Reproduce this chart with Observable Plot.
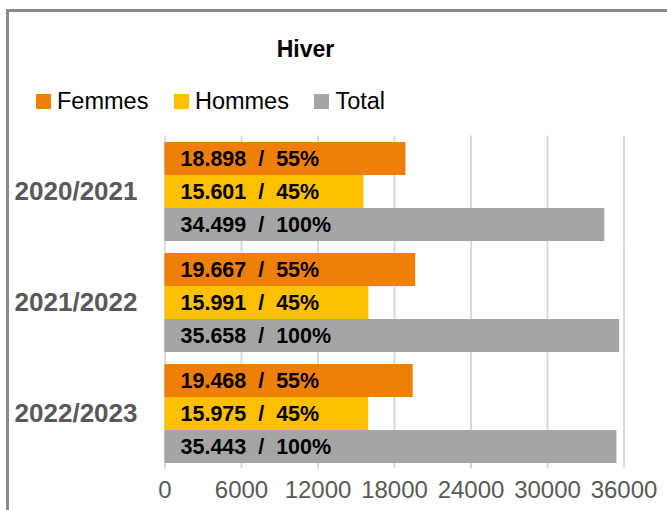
<!DOCTYPE html>
<html>
<head>
<meta charset="utf-8">
<script src="https://cdn.jsdelivr.net/npm/d3@7"></script>
<script src="https://cdn.jsdelivr.net/npm/@observablehq/plot@0.6"></script>
<style>
  html, body { margin: 0; padding: 0; background: #fff; }
  #wrap { position: relative; width: 667px; height: 510px; overflow: hidden; font-family: "Liberation Sans", Arial, sans-serif; }
  #header { position: relative; height: 120px; }
  #title { position: absolute; left: 0; width: 611px; top: 37.5px; text-align: center; font-weight: bold; font-size: 23px; line-height: 23px; color: #000; }
  #legend { position: absolute; left: 36px; top: 90px; display: flex; align-items: center; font-size: 23.5px; line-height: 23.5px; color: #000; }
  .item { display: flex; align-items: center; margin-right: 25.5px; }
  .sw { width: 15px; height: 15px; margin-right: 6px; }
  #border { position: absolute; left: 6px; top: 9px; width: 720px; height: 620px; border: 3px solid #8a8a8a; pointer-events: none; z-index: 5; }
  svg { display: block; }
</style>
</head>
<body>
<div id="wrap">
  <div id="header">
    <div id="title"></div>
    <div id="legend"></div>
  </div>
  <div id="chart"></div>
  <div id="border"></div>
</div>
<script>
const titleText = "Hiver";
const years = ["2020/2021", "2021/2022", "2022/2023"];
const series = ["Femmes", "Hommes", "Total"];
const colors = ["#F07F09", "#FFC000", "#A5A5A5"];
const femmes = [18898, 19667, 19468];
const hommes = [15601, 15991, 15975];
const totals = [34499, 35658, 35443];
const pctFemmes = [55, 55, 55];
const pctHommes = [45, 45, 45];
const pctTotals = [100, 100, 100];
const xTicks = [0, 6000, 12000, 18000, 24000, 30000, 36000];

const locale = d3.formatLocale({decimal: ",", thousands: ".", grouping: [3], currency: ["", "€"]});
const fmt = locale.format(",d");

const rows = years.flatMap((yr, i) => [
  {year: yr, series: "Femmes", value: femmes[i], pct: pctFemmes[i]},
  {year: yr, series: "Hommes", value: hommes[i], pct: pctHommes[i]},
  {year: yr, series: "Total", value: totals[i], pct: pctTotals[i]}
]);

document.getElementById("title").textContent = titleText;
const legend = document.getElementById("legend");
series.forEach((s, i) => {
  const item = document.createElement("div");
  item.className = "item";
  const sw = document.createElement("div");
  sw.className = "sw";
  sw.style.background = colors[i];
  const lab = document.createElement("span");
  lab.textContent = s;
  item.appendChild(sw);
  item.appendChild(lab);
  legend.appendChild(item);
});

const chart = Plot.plot({
  width: 667,
  height: 390,
  marginTop: 15,
  marginBottom: 42,
  marginLeft: 164.5,
  marginRight: 43.5,
  style: {fontFamily: "'Liberation Sans', Arial, sans-serif", background: "transparent", overflow: "visible"},
  x: {domain: [0, 36000], axis: null},
  y: {domain: series, padding: 0, axis: null},
  fy: {domain: years, paddingInner: 0.1, paddingOuter: 0.05, axis: null},
  color: {domain: series, range: colors},
  marks: [
    Plot.ruleX(xTicks, {stroke: "#d9d9d9", strokeWidth: 2, insetTop: -5.5, insetBottom: -5.5}),
    Plot.barX(rows, {x: "value", y: "series", fy: "year", fill: "series"}),
    Plot.text(rows, {
      x: () => 0, y: "series", fy: "year",
      text: d => `${fmt(d.value)}\u00A0 /\u00A0 ${d.pct}%`,
      textAnchor: "start", dx: 15.5, fontWeight: "bold", fontSize: 21.5, fill: "#000"
    }),
    Plot.axisX({ticks: xTicks, tickSize: 0, tickPadding: 17, fontSize: 24, fill: "#595959", label: null, tickFormat: d => String(d)}),
    Plot.axisFy({anchor: "left", tickSize: 0, tickPadding: 27.5, fontSize: 26, fontWeight: "bold", fill: "#595959", label: null})
  ]
});
document.getElementById("chart").appendChild(chart);
</script>
</body>
</html>
